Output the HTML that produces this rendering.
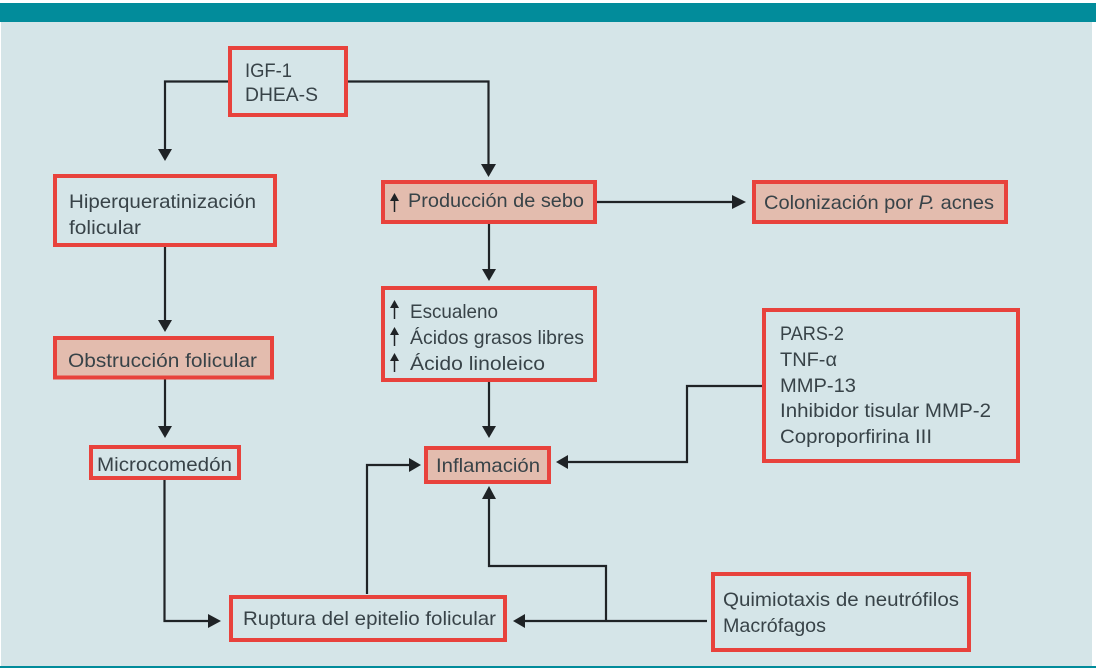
<!DOCTYPE html>
<html lang="es">
<head>
<meta charset="utf-8">
<title>Diagrama</title>
<style>
html,body{margin:0;padding:0;background:#fff;width:1096px;height:668px;overflow:hidden}
svg{display:block}
text{font-family:"Liberation Sans",sans-serif;font-size:19.5px;fill:#384348}
.b{fill:#d5e5e8;stroke:#e8423c;stroke-width:4}
.p{fill:#e3bcae;stroke:#e8423c;stroke-width:4}
.l{fill:none;stroke:#1f2326;stroke-width:2.2}
.a{fill:#1f2326;stroke:none}
.s{stroke:#1f2326;stroke-width:1.5;fill:none}
</style>
</head>
<body>
<svg width="1096" height="668" viewBox="0 0 1096 668" xmlns="http://www.w3.org/2000/svg">
<rect x="0" y="0" width="1096" height="668" fill="#ffffff"/>
<rect x="1" y="22" width="1091" height="644" fill="#d5e5e8"/>
<rect x="0" y="3" width="1096" height="19" fill="#028c9b"/>
<rect x="0" y="666" width="1096" height="2" fill="#028c9b"/>

<!-- connectors -->
<path class="l" d="M230 81.500H165V150"/>
<path class="l" d="M346 81.500H488.500V165"/>
<path class="l" d="M597 202H735"/>
<path class="l" d="M489 224V270"/>
<path class="l" d="M489 382V428"/>
<path class="l" d="M165 247V320"/>
<path class="l" d="M165 379V428"/>
<path class="l" d="M164.500 480V621H210"/>
<path class="l" d="M367 594V465H412"/>
<path class="l" d="M763 386H687V462H566"/>
<path class="l" d="M707 621H523"/>
<path class="l" d="M606 621V566H489V496"/>

<!-- arrowheads -->
<polygon class="a" points="158,149 172,149 165,161"/>
<polygon class="a" points="481,164 496,164 488.500,177"/>
<polygon class="a" points="732,195 732,209 746,202"/>
<polygon class="a" points="482,269 496,269 489,281"/>
<polygon class="a" points="482,426 496,426 489,438"/>
<polygon class="a" points="158,320 172,320 165,332"/>
<polygon class="a" points="158,426 172,426 165,438"/>
<polygon class="a" points="208,614 208,628 221,621"/>
<polygon class="a" points="409,458 409,472 421,465"/>
<polygon class="a" points="568,455 568,469 556,462"/>
<polygon class="a" points="525,614 525,628 513,621"/>
<polygon class="a" points="482,499 496,499 489,486"/>

<!-- boxes -->
<rect class="b" x="230" y="48" width="116" height="67"/>
<rect class="b" x="55" y="176" width="220" height="69"/>
<rect class="p" x="383" y="182" width="212" height="40"/>
<rect class="p" x="754" y="182" width="252" height="40"/>
<rect class="b" x="383" y="288" width="212" height="92"/>
<rect class="p" x="55" y="338" width="217" height="39.500"/>
<rect class="b" x="91" y="447" width="148" height="31"/>
<rect class="p" x="426" y="448" width="123" height="34"/>
<rect class="b" x="764" y="310" width="254" height="151"/>
<rect class="b" x="713" y="574" width="256" height="76"/>
<rect class="b" x="231" y="597" width="274" height="43"/>

<!-- text -->
<text x="245" y="77" textLength="47" lengthAdjust="spacingAndGlyphs">IGF-1</text>
<text x="245" y="101" textLength="73" lengthAdjust="spacingAndGlyphs">DHEA-S</text>
<text x="69" y="208" textLength="187" lengthAdjust="spacingAndGlyphs">Hiperqueratinización</text>
<text x="69" y="234" textLength="72" lengthAdjust="spacingAndGlyphs">folicular</text>
<text x="408" y="207" textLength="176" lengthAdjust="spacingAndGlyphs">Producción de sebo</text>
<text x="764" y="209" textLength="230" lengthAdjust="spacingAndGlyphs">Colonización por <tspan font-style="italic">P.</tspan> acnes</text>
<text x="410" y="318" textLength="88" lengthAdjust="spacingAndGlyphs">Escualeno</text>
<text x="410" y="344" textLength="174" lengthAdjust="spacingAndGlyphs">Ácidos grasos libres</text>
<text x="410" y="370" textLength="135" lengthAdjust="spacingAndGlyphs">Ácido linoleico</text>
<text x="68" y="367" textLength="189" lengthAdjust="spacingAndGlyphs">Obstrucción folicular</text>
<text x="97" y="471" textLength="135" lengthAdjust="spacingAndGlyphs">Microcomedón</text>
<text x="436" y="472" textLength="104" lengthAdjust="spacingAndGlyphs">Inflamación</text>
<text x="780" y="340" textLength="64" lengthAdjust="spacingAndGlyphs">PARS-2</text>
<text x="780" y="366" textLength="57" lengthAdjust="spacingAndGlyphs">TNF-α</text>
<text x="780" y="392" textLength="76" lengthAdjust="spacingAndGlyphs">MMP-13</text>
<text x="780" y="417" textLength="211" lengthAdjust="spacingAndGlyphs">Inhibidor tisular MMP-2</text>
<text x="780" y="443" textLength="152" lengthAdjust="spacingAndGlyphs">Coproporfirina III</text>
<text x="723" y="606" textLength="236" lengthAdjust="spacingAndGlyphs">Quimiotaxis de neutrófilos</text>
<text x="723" y="632" textLength="103" lengthAdjust="spacingAndGlyphs">Macrófagos</text>
<text x="243" y="625" textLength="253" lengthAdjust="spacingAndGlyphs">Ruptura del epitelio folicular</text>

<!-- small up arrows -->
<path class="s" d="M394.500 198V212"/><polygon class="a" points="390,201 399,201 394.500,193"/>
<path class="s" d="M394.500 305V319"/><polygon class="a" points="390,308 399,308 394.500,300"/>
<path class="s" d="M394.500 332V346"/><polygon class="a" points="390,335 399,335 394.500,327"/>
<path class="s" d="M394.500 358V372"/><polygon class="a" points="390,361 399,361 394.500,353"/>
</svg>
</body>
</html>
